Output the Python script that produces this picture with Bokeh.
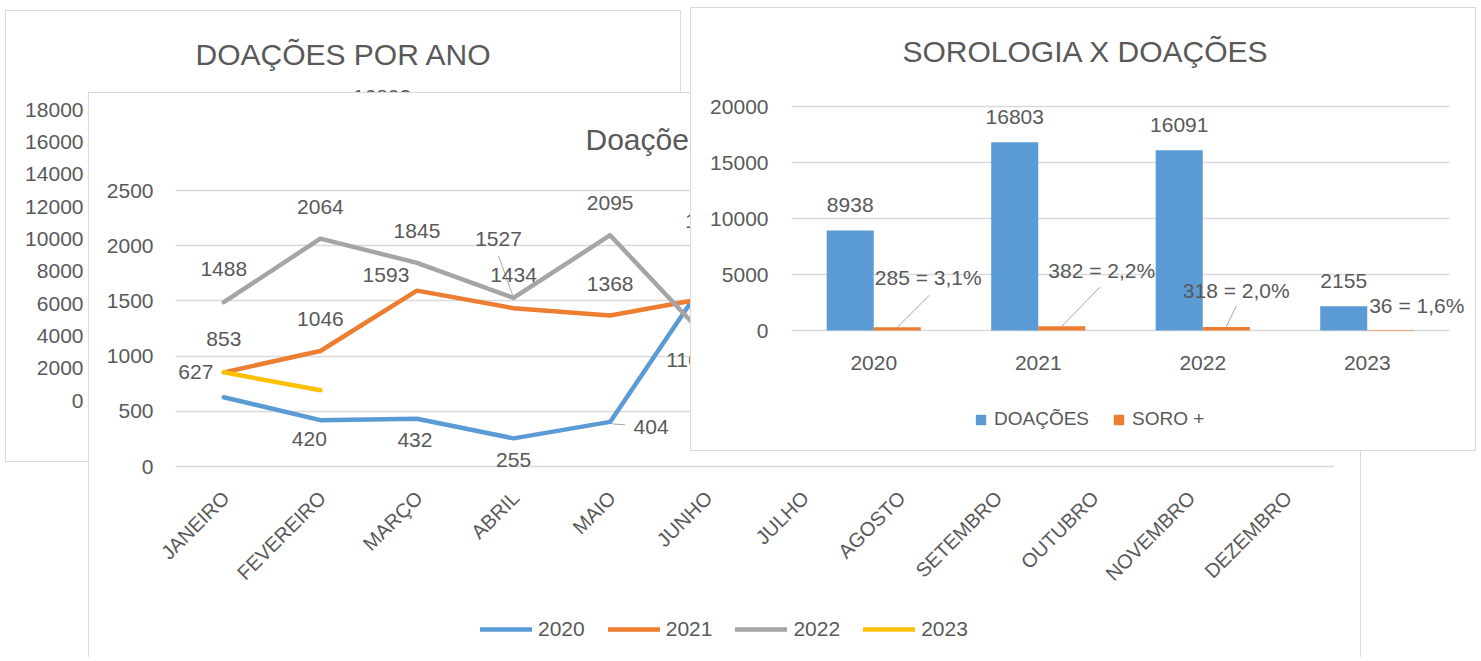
import math
from bokeh.plotting import figure
from bokeh.models import (ColumnDataSource, Range1d, FactorRange, FixedTicker,
                          Legend, LegendItem, Title)
from bokeh.layouts import column
from bokeh.embed import file_html
from bokeh.resources import INLINE
from bokeh.core.properties import value

# ---------------- data ----------------
back_title = "DOAÇÕES POR ANO"
back_years = ["2020", "2021", "2022"]
back_totals = [8938, 16803, 16091]
back_ticks = [0, 2000, 4000, 6000, 8000, 10000, 12000, 14000, 16000, 18000]

mid_title = "Doações por mês"
months = ["JANEIRO", "FEVEREIRO", "MARÇO", "ABRIL", "MAIO", "JUNHO",
          "JULHO", "AGOSTO", "SETEMBRO", "OUTUBRO", "NOVEMBRO", "DEZEMBRO"]
series_names = ["2020", "2021", "2022", "2023"]
don_2020 = [627, 420, 432, 255, 404, 1700]
don_2021 = [853, 1046, 1593, 1434, 1368, 1527]
don_2022 = [1488, 2064, 1845, 1527, 2095, 1164]
don_2023 = [853, 690]
mid_ticks = [0, 500, 1000, 1500, 2000, 2500]

front_title = "SOROLOGIA X DOAÇÕES"
years = ["2020", "2021", "2022", "2023"]
doacoes = [8938, 16803, 16091, 2155]
soro_pos = [285, 382, 318, 36]
soro_pct = ["3,1%", "2,2%", "2,0%", "1,6%"]
front_ticks = [0, 5000, 10000, 15000, 20000]
legend_front = ["DOAÇÕES", "SORO +"]

# ---------------- styles ----------------
FONT = "Liberation Sans"
TXT = "#595959"
GRID = "#d9d9d9"
BORDER = "1px solid #d9d9d9"
BLUE, ORANGE, GRAY, YELLOW = "#5b9bd5", "#ed7d31", "#a5a5a5", "#ffc000"
series_colors = [BLUE, ORANGE, GRAY, YELLOW]

# label offsets in pixels (dx, dy) for the month chart; None = no label
mid_lbl_off = [
    [(-28, -25), (-11, 19), (-2, 21), (0, 22), (41, 5), (2, -58)],
    [(0, -33), (0, -32), (-31, -16), (0, -33), (0, -31), None],
    [(0, -33), (0, -32), (0, -32), (-15, -59), (0, -32), (-18, 22)],
    [None, None],
]
# leader lines (series, month index, dx0, dy0, dx1, dy1) in pixels
mid_leaders = [(2, 3, -1, -3, -15, -42), (0, 4, 2, 2, 15, 3)]

soro_lbl_dx = [31, 40, 10, 26]
soro_lbl_dy = [-50, -56, -36, -25]
soro_leader = [(32, -32), (38, -39), (10, -21), None]

# ---------------- geometry ----------------
BW, BH = 676, 452
B_L, B_R, B_T, B_B = 85, 10, 66, 63
BACK_TOP = 20000

MW, MH = 1273, 565
M_L, M_R, M_B = 86, 28, 0
MID_TOP_TICK = 97                   # canvas y of the top tick (2500)
MID_ZERO = 373                      # canvas y of the value 0
M_T = MID_TOP_TICK - 5              # frame top a little above the top grid line
MONTH_PX = (MW - M_L - M_R) / len(months)
MID_UNIT_PX = (MID_ZERO - MID_TOP_TICK) / mid_ticks[-1]
MID_Y_START = -(MH - M_B - MID_ZERO) / MID_UNIT_PX
MID_Y_END = (MID_ZERO - M_T) / MID_UNIT_PX

LW, LH = 1200, 140
L_SHIFT = 35

FW, FH = 786, 444
F_L, F_R, F_B = 100, 5, 0
FRONT_TOP_TICK = 98
FRONT_ZERO = 322
F_T = FRONT_TOP_TICK - 4
CAT_PX = 164.5
FRONT_X_END = (FW - F_L - F_R) / CAT_PX
FRONT_UNIT_PX = (FRONT_ZERO - FRONT_TOP_TICK) / front_ticks[-1]
FRONT_Y_START = -(FH - F_B - FRONT_ZERO) / FRONT_UNIT_PX
FRONT_Y_END = (FRONT_ZERO - F_T) / FRONT_UNIT_PX
BAR_W = 0.286


def no_align(p):
    if "frame_align" in p.properties():
        p.frame_align = False


def style_title(p, text, offset, gap):
    p.add_layout(Title(text=" ", text_font_size="1px", standoff=max(gap - 3, 0)), "above")
    p.title.text = text
    p.title.text_font = FONT
    p.title.text_font_size = "30px"
    p.title.text_font_style = "normal"
    p.title.text_color = TXT
    p.title.align = "left"
    p.title.offset = offset
    p.title.standoff = 0


def style_yaxis(p, yticks, standoff):
    p.outline_line_color = None
    for ax in p.yaxis:
        ax.ticker = FixedTicker(ticks=yticks)
        ax.major_tick_line_color = None
        ax.minor_tick_line_color = None
        ax.major_tick_out = 0
        ax.major_tick_in = 0
        ax.axis_line_color = None
        ax.major_label_text_font = FONT
        ax.major_label_text_color = TXT
        ax.major_label_text_font_size = "21px"
        ax.major_label_standoff = standoff
    for g in p.xgrid:
        g.grid_line_color = None
    for g in p.ygrid:
        g.grid_line_color = GRID
        g.grid_line_width = 1.5


def legend_kw(font_size):
    return dict(orientation="horizontal", padding=0, margin=0, border_line_color=None,
                background_fill_alpha=0, label_text_font=FONT, label_text_font_size=font_size,
                label_text_color=TXT)


TEXT_KW = dict(text_font=value(FONT), text_font_size="21px", text_color=TXT)

# ================= back panel =================
pb = figure(width=BW, height=BH, x_range=FactorRange(factors=back_years, range_padding=0),
            y_range=Range1d(0, BACK_TOP), output_backend="svg", toolbar_location=None,
            min_border_left=B_L, min_border_right=B_R, min_border_top=B_T, min_border_bottom=B_B)
no_align(pb)
style_title(pb, back_title, 104, 7)
style_yaxis(pb, back_ticks, 8)
for ax in pb.xaxis:
    ax.major_tick_line_color = None
    ax.major_label_text_font_size = "21px"
    ax.major_label_text_color = TXT
    ax.axis_line_color = GRID
bsrc = ColumnDataSource(dict(y=back_years, v=back_totals, t=[str(v) for v in back_totals]))
pb.vbar(x="y", top="v", width=0.4, source=bsrc, fill_color=BLUE, line_color=None)
pb.text(x="y", y="v", text="t", source=bsrc, y_offset=-32, text_align="center",
        text_baseline="middle", **TEXT_KW)

# ================= middle panel =================
pm = figure(width=MW, height=MH, x_range=FactorRange(factors=months, range_padding=0),
            y_range=Range1d(MID_Y_START, MID_Y_END), x_axis_location=None,
            output_backend="svg", toolbar_location=None,
            min_border_left=M_L, min_border_right=M_R, min_border_top=M_T, min_border_bottom=M_B)
no_align(pm)
style_title(pm, mid_title, 410, 30)
style_yaxis(pm, mid_ticks, 22)

all_series = [don_2020, don_2021, don_2022, don_2023]
line_renderers = []
for vals, col in zip(all_series, series_colors):
    src = ColumnDataSource(dict(m=months[:len(vals)], v=vals))
    r = pm.line("m", "v", source=src, line_color=col, line_width=4.5,
                line_cap="round", line_join="round")
    line_renderers.append(r)

lx0, ly0, lx1, ly1 = [], [], [], []
for si, mi, dx0, dy0, dx1, dy1 in mid_leaders:
    v = all_series[si][mi]
    lx0.append(mi + 0.5 + dx0 / MONTH_PX)
    ly0.append(v - dy0 / MID_UNIT_PX)
    lx1.append(mi + 0.5 + dx1 / MONTH_PX)
    ly1.append(v - dy1 / MID_UNIT_PX)
pm.segment(x0=lx0, y0=ly0, x1=lx1, y1=ly1, line_color="#a6a6a6", line_width=1)

lab = dict(m=[], v=[], t=[], dx=[], dy=[])
for vals, offs in zip(all_series, mid_lbl_off):
    for i, (v, o) in enumerate(zip(vals, offs)):
        if o is None:
            continue
        lab["m"].append(months[i]); lab["v"].append(v); lab["t"].append(str(v))
        lab["dx"].append(o[0]); lab["dy"].append(o[1])
pm.text(x="m", y="v", text="t", source=ColumnDataSource(lab), x_offset="dx", y_offset="dy",
        text_align="center", text_baseline="middle", **TEXT_KW)

leg_m = Legend(items=[LegendItem(label=n, renderers=[r]) for n, r in zip(series_names, line_renderers)],
               location=(305, 17), glyph_width=52, glyph_height=20, label_standoff=6,
               spacing=23, **legend_kw("21px"))
pm.add_layout(leg_m, "center")

# ============ month names strip (transparent overlay aligned with the month axis) ============
l_start = -L_SHIFT / MONTH_PX
pl = figure(width=LW, height=LH, x_range=Range1d(l_start, l_start + LW / MONTH_PX),
            y_range=Range1d(-LH, 0), x_axis_location=None, y_axis_location=None,
            output_backend="svg", toolbar_location=None, min_border=0,
            border_fill_color=None, background_fill_color=None)
no_align(pl)
pl.outline_line_color = None
pl.grid.grid_line_color = None
pl.text(x=[i + 0.5 for i in range(len(months))], y=[0] * len(months), text=months,
        angle=math.pi / 4, x_offset=2, y_offset=29, text_align="right", text_baseline="middle",
        text_font=value(FONT), text_font_size="20px", text_color=TXT)

# ================= front panel =================
pf = figure(width=FW, height=FH, x_range=Range1d(0, FRONT_X_END),
            y_range=Range1d(FRONT_Y_START, FRONT_Y_END), x_axis_location=None,
            output_backend="svg", toolbar_location=None,
            min_border_left=F_L, min_border_right=F_R, min_border_top=F_T, min_border_bottom=F_B)
no_align(pf)
style_title(pf, front_title, 111, 35)
style_yaxis(pf, front_ticks, 23)
for g in pf.ygrid:
    g.grid_line_color = None
cat_x = [i + 0.5 for i in range(len(years))]

pf.segment(x0=[0] * len(front_ticks), x1=[len(years)] * len(front_ticks),
           y0=front_ticks, y1=front_ticks, line_color=GRID, line_width=1.5)
pf.text(x=cat_x, y=[0] * len(years), text=years, y_offset=32, text_align="center",
        text_baseline="middle", **TEXT_KW)

fsrc = ColumnDataSource(dict(xd=[c - BAR_W / 2 for c in cat_x], xs=[c + BAR_W / 2 for c in cat_x],
                             d=doacoes, s=soro_pos,
                             dt=[str(v) for v in doacoes],
                             st=[f"{s} = {p}" for s, p in zip(soro_pos, soro_pct)],
                             sdx=soro_lbl_dx, sdy=soro_lbl_dy))
rb1 = pf.vbar(x="xd", top="d", width=BAR_W, source=fsrc, fill_color=BLUE, line_color=None)
rb2 = pf.vbar(x="xs", top="s", width=BAR_W, source=fsrc, fill_color=ORANGE, line_color=None)
pf.text(x="xd", y="d", text="dt", source=fsrc, y_offset=-25,
        text_align="center", text_baseline="middle", **TEXT_KW)
sx0, sy0, sx1, sy1 = [], [], [], []
for i, ld in enumerate(soro_leader):
    if ld is None:
        continue
    x0 = cat_x[i] + BAR_W / 2
    sx0.append(x0); sy0.append(soro_pos[i])
    sx1.append(x0 + ld[0] / CAT_PX); sy1.append(soro_pos[i] - ld[1] / FRONT_UNIT_PX)
pf.segment(x0=sx0, y0=sy0, x1=sx1, y1=sy1, line_color="#a6a6a6", line_width=1)
pf.text(x="xs", y="s", text="st", source=fsrc,
        x_offset="sdx", y_offset="sdy", text_align="center", text_baseline="middle", **TEXT_KW)

leg_f = Legend(items=[LegendItem(label=legend_front[0], renderers=[rb1]),
                      LegendItem(label=legend_front[1], renderers=[rb2])],
               location=(183, 22), glyph_width=13, glyph_height=13, label_standoff=7,
               spacing=23, **legend_kw("19px"))
pf.add_layout(leg_f, "center")

# ---------------- overlapping placement (page pixels) ----------------
pb.styles = {"border": BORDER, "background-color": "white"}
pb.margin = (10, 0, 0, 5)
pm.styles = {"border-left": BORDER, "border-top": BORDER, "border-right": BORDER,
             "background-color": "white"}
pm.margin = (-370, 0, 0, 88)
mid_bottom = 94 + 1 + MH
strip_top = 95 + MID_ZERO
pl.margin = (strip_top - mid_bottom, 0, 0, 89 + M_L - L_SHIFT)
pf.styles = {"border": BORDER, "background-color": "white"}
pf.margin = (10 - (strip_top + LH), 0, 0, 690)

layout = column(pb, pm, pl, pf)
open("out.html", "w").write(file_html(layout, INLINE))
